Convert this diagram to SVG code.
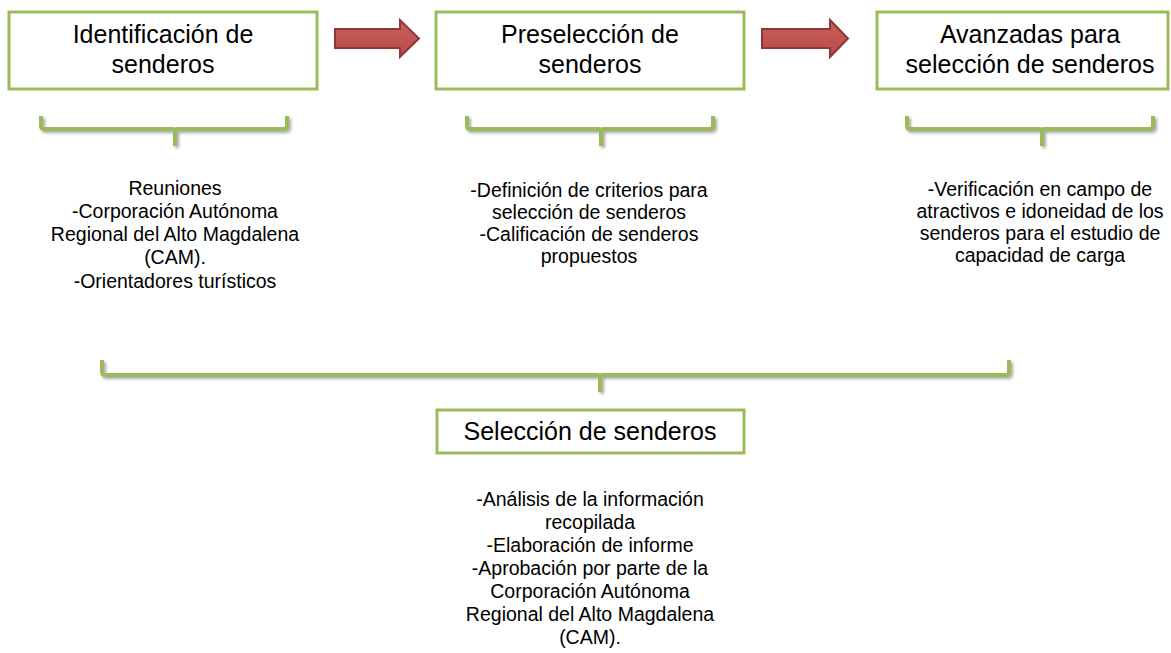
<svg xmlns="http://www.w3.org/2000/svg" width="1171" height="653" viewBox="0 0 1171 653">
<defs>
<filter id="sh" x="-5%" y="-50%" width="110%" height="200%">
<feGaussianBlur in="SourceAlpha" stdDeviation="1.5"/>
<feOffset dx="2" dy="2" result="b"/>
<feComponentTransfer><feFuncA type="linear" slope="0.35"/></feComponentTransfer>
<feMerge><feMergeNode/><feMergeNode in="SourceGraphic"/></feMerge>
</filter>
<linearGradient id="ag" x1="0" y1="0" x2="0" y2="1">
<stop offset="0" stop-color="#C9605D"/>
<stop offset="1" stop-color="#B94A47"/>
</linearGradient>
</defs>
<style>
.box{fill:#fff;stroke:#9BBB59;stroke-width:3}
.br{fill:none;stroke:#9BBB59;stroke-width:4;stroke-linejoin:round}
.arr{fill:url(#ag);stroke:#8C3836;stroke-width:2}
.t{font-family:"Liberation Sans",Arial,sans-serif;font-size:25px;fill:#000;text-anchor:middle}
.b{font-family:"Liberation Sans",Arial,sans-serif;font-size:19.5px;fill:#000;text-anchor:middle}
</style>
<rect width="1171" height="653" fill="#fff"/>
<g id="n1">
<rect class="box" x="9" y="12" width="308" height="77"/>
<text class="t" x="163" y="43">Identificación de</text>
<text class="t" x="163" y="73">senderos</text>
</g>
<g id="n2">
<rect class="box" x="436" y="12" width="308" height="77"/>
<text class="t" x="590" y="43">Preselección de</text>
<text class="t" x="590" y="73">senderos</text>
</g>
<g id="n3">
<rect class="box" x="877" y="12" width="291" height="77"/>
<text class="t" x="1030" y="43">Avanzadas para</text>
<text class="t" x="1030" y="73">selección de senderos</text>
</g>
<g id="n4">
<rect class="box" x="437" y="410" width="307" height="43"/>
<text class="t" x="590" y="440">Selección de senderos</text>
</g>
<g id="connectors">
<path class="arr" d="M335,29 H400 V20 L419,38.5 L400,57 V48 H335 Z"/>
<path class="arr" d="M762,29 H830 V20 L848,38.5 L830,57 V48 H762 Z"/>
<g filter="url(#sh)">
<path class="br" d="M41,116 V126 Q41,129 44,129 H172 Q175,129 175,132 V146 M175,132 Q175,129 178,129 H284 Q287,129 287,126 V116"/>
<path class="br" d="M467,116 V126 Q467,129 470,129 H598 Q601,129 601,132 V146 M601,132 Q601,129 604,129 H710 Q713,129 713,126 V116"/>
<path class="br" d="M907,116 V126 Q907,129 910,129 H1039 Q1042,129 1042,132 V146 M1042,132 Q1042,129 1045,129 H1150 Q1153,129 1153,126 V116"/>
<path class="br" d="M102,360 V372 Q102,375 105,375 H597 Q600,375 600,378 V392 M600,378 Q600,375 603,375 H1006 Q1009,375 1009,372 V360"/>
</g>
</g>
<g id="txt1">
<text class="b" x="175" y="195">Reuniones</text>
<text class="b" x="175" y="218">-Corporación Autónoma</text>
<text class="b" x="175" y="241">Regional del Alto Magdalena</text>
<text class="b" x="175" y="264">(CAM).</text>
<text class="b" x="175" y="288">-Orientadores turísticos</text>
</g>
<g id="txt2">
<text class="b" x="589" y="197">-Definición de criterios para</text>
<text class="b" x="589" y="219">selección de senderos</text>
<text class="b" x="589" y="241">-Calificación de senderos</text>
<text class="b" x="589" y="263">propuestos</text>
</g>
<g id="txt3">
<text class="b" x="1040" y="196">-Verificación en campo de</text>
<text class="b" x="1040" y="218">atractivos e idoneidad de los</text>
<text class="b" x="1040" y="240">senderos para el estudio de</text>
<text class="b" x="1040" y="262">capacidad de carga</text>
</g>
<g id="txt4">
<text class="b" x="590" y="506">-Análisis de la información</text>
<text class="b" x="590" y="529">recopilada</text>
<text class="b" x="590" y="552">-Elaboración de informe</text>
<text class="b" x="590" y="575">-Aprobación por parte de la</text>
<text class="b" x="590" y="598">Corporación Autónoma</text>
<text class="b" x="590" y="621">Regional del Alto Magdalena</text>
<text class="b" x="590" y="644">(CAM).</text>
</g>
</svg>
